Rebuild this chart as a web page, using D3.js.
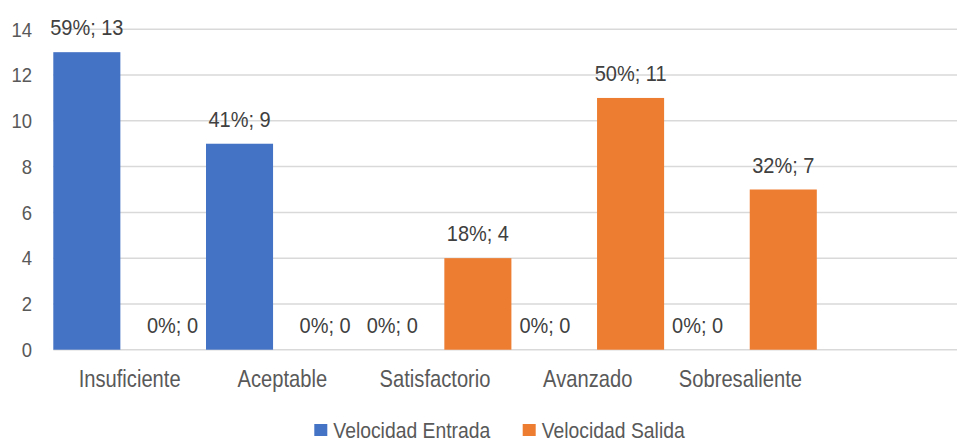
<!DOCTYPE html>
<html>
<head>
<meta charset="utf-8">
<script src="https://cdn.jsdelivr.net/npm/d3@7"></script>
<style>
  html, body { margin: 0; padding: 0; background: #fff; }
  svg { display: block; font-family: "Liberation Sans", Arial, sans-serif; }
</style>
</head>
<body>
<svg id="chart" width="957" height="439"></svg>
<script>
// Niveles de desempeño y conteos por serie
const categories = ["Insuficiente", "Aceptable", "Satisfactorio", "Avanzado", "Sobresaliente"];
const seriesNames = ["Velocidad Entrada", "Velocidad Salida"];
const entradaValues = [13, 9, 0, 0, 0];
const salidaValues = [0, 0, 4, 11, 7];
const entradaPct = [59, 41, 0, 0, 0];
const salidaPct = [0, 0, 18, 50, 32];
const yTicks = [0, 2, 4, 6, 8, 10, 12, 14];
const colors = ["#4472C4", "#ED7D31"];

// Texto estrecho: fuente sans con compresión horizontal
const narrow = sx => `scale(${sx},1)`;

const svg = d3.select("#chart");
const W = 957;

const plotLeft = 53.3, step = 152.7;
const y = d3.scaleLinear().domain([0, 14]).range([349.7, 29.3]);
const x = d3.scaleBand().domain(categories)
  .range([plotLeft, plotLeft + step * categories.length]).padding(0);
const xs = d3.scaleBand().domain(seriesNames)
  .range([0, x.bandwidth()]).paddingInner(0.217).paddingOuter(0);
const color = d3.scaleOrdinal().domain(seriesNames).range(colors);

// Líneas de cuadrícula horizontales
svg.append("g").selectAll("line").data(yTicks).join("line")
  .attr("x1", plotLeft).attr("x2", W)
  .attr("y1", d => y(d)).attr("y2", d => y(d))
  .attr("stroke", "#D9D9D9").attr("stroke-width", 1.5);

// Eje Y
const yAxis = d3.axisLeft(y).tickValues(yTicks).tickSize(0).tickPadding(0);
svg.append("g").attr("transform", "translate(32,0)").call(yAxis)
  .call(g => g.select(".domain").remove())
  .call(g => g.selectAll("text").attr("font-size", 21).attr("fill", "#595959")
    .attr("font-family", null).attr("transform", narrow(0.88)));

// Eje X (etiquetas de categorías)
const xAxis = d3.axisBottom(x).tickSize(0).tickPadding(0);
svg.append("g").attr("transform", "translate(0,370)").call(xAxis)
  .call(g => g.select(".domain").remove())
  .call(g => g.selectAll("text").attr("font-size", 24).attr("fill", "#595959")
    .attr("font-family", null).attr("dy", "0.72em").attr("transform", narrow(0.84)));

// Datos por categoría
const rows = categories.map((c, i) => ({
  cat: c,
  vals: [
    { s: seriesNames[0], v: entradaValues[i], p: entradaPct[i] },
    { s: seriesNames[1], v: salidaValues[i], p: salidaPct[i] }
  ]
}));

const groups = svg.append("g").selectAll("g").data(rows).join("g")
  .attr("transform", d => `translate(${x(d.cat)},0)`);

groups.selectAll("rect").data(d => d.vals).join("rect")
  .attr("x", d => xs(d.s))
  .attr("width", xs.bandwidth())
  .attr("y", d => y(d.v))
  .attr("height", d => y(0) - y(d.v))
  .attr("fill", d => color(d.s));

groups.selectAll("g.lbl").data(d => d.vals).join("g")
  .attr("class", "lbl")
  .attr("transform", d => `translate(${xs(d.s) + xs.bandwidth() / 2},${y(d.v) - 17})`)
  .append("text")
  .attr("text-anchor", "middle")
  .attr("font-size", 21.5)
  .attr("fill", "#404040")
  .attr("transform", narrow(0.93))
  .text(d => `${d.p}%; ${d.v}`);

// Leyenda
const legendX = [314.3, 522.7];
const legend = svg.append("g").selectAll("g").data(seriesNames).join("g")
  .attr("transform", (d, i) => `translate(${legendX[i]},0)`);
legend.append("rect").attr("x", 0).attr("y", 424).attr("width", 13).attr("height", 12)
  .attr("fill", d => color(d));
legend.append("g").attr("transform", "translate(19,437.5)")
  .append("text")
  .attr("font-size", 22.5).attr("fill", "#595959")
  .attr("transform", narrow(0.86))
  .text(d => d);
</script>
</body>
</html>
